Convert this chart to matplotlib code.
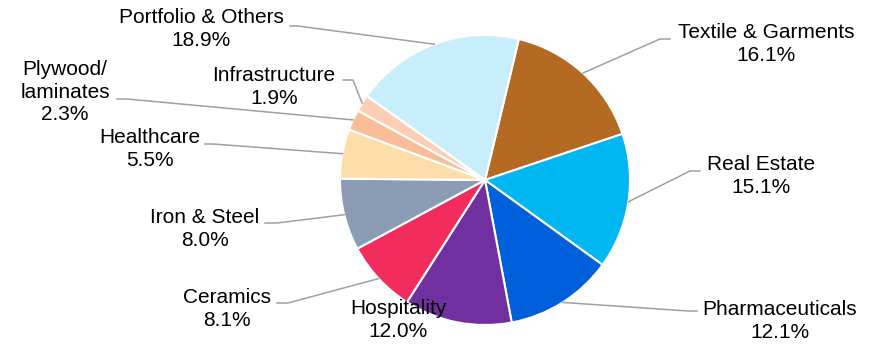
import numpy as np
import matplotlib.pyplot as plt

plt.rcParams['font.family'] = ['Liberation Sans', 'DejaVu Sans']

# sector shares (clockwise from top)
sectors = ['Textile & Garments', 'Real Estate', 'Pharmaceuticals', 'Hospitality',
           'Ceramics', 'Iron & Steel', 'Healthcare', 'Plywood/\nlaminates',
           'Infrastructure', 'Portfolio & Others']
shares = [16.1, 15.1, 12.1, 12.0, 8.1, 8.0, 5.5, 2.3, 1.9, 18.9]
colors = ['#B46A22', '#00B7F1', '#005FDB', '#7030A0', '#F22C5C',
          '#8A9DB5', '#FFDDAA', '#F9BE98', '#FCCFB4', '#C8EEFB']

# label layout in pixels: text centre, elbow, end of leader at text (None = no leader)
text_pos = [(766, 44), (761, 176), (780, 321), (398, 320), (227, 309),
            (205, 229), (150, 149), (65, 92), (274, 87), (201, 29)]
elbows = [((660, 39), (670, 39)), ((690, 171), (700, 171)), ((688, 311), (697, 311)), None,
          ((288, 303), (277, 303)), ((277, 223), (265, 223)), ((213, 144), (205, 144)),
          ((127, 99), (117, 99)), ((353, 80), (343, 80)), ((298, 26), (290, 26))]

W, H = 877, 345
cx, cy, R = 485, 180, 145


def px(x, y):
    return (x - cx) / R, (cy - y) / R


fig = plt.figure(figsize=(W / 100, H / 100), dpi=100)
ax = fig.add_axes([0, 0, 1, 1])
wedges, _ = ax.pie(shares, colors=colors, startangle=76.5, counterclock=False,
                   radius=1, wedgeprops=dict(edgecolor='white', linewidth=1.5))
ax.set_xlim(-cx / R, (W - cx) / R)
ax.set_ylim(-(H - cy) / R, cy / R)
ax.set_aspect('equal')
ax.axis('off')

for w, name, val, tp, el in zip(wedges, sectors, shares, text_pos, elbows):
    mid = np.deg2rad((w.theta1 + w.theta2) / 2)
    if el is not None:
        sx, sy = np.cos(mid), np.sin(mid)
        (ex, ey), (ax2, ay2) = px(*el[0]), px(*el[1])
        ax.plot([sx, ex, ax2], [sy, ey, ay2], color='#A0A0A0', lw=1.1, zorder=1)
    tx, ty = px(*tp)
    ax.text(tx, ty, f'{name}\n{val:.1f}%', ha='center', va='center',
            fontsize=15, color='black', linespacing=1.25, zorder=5)

fig.savefig('out.png', dpi=100)
